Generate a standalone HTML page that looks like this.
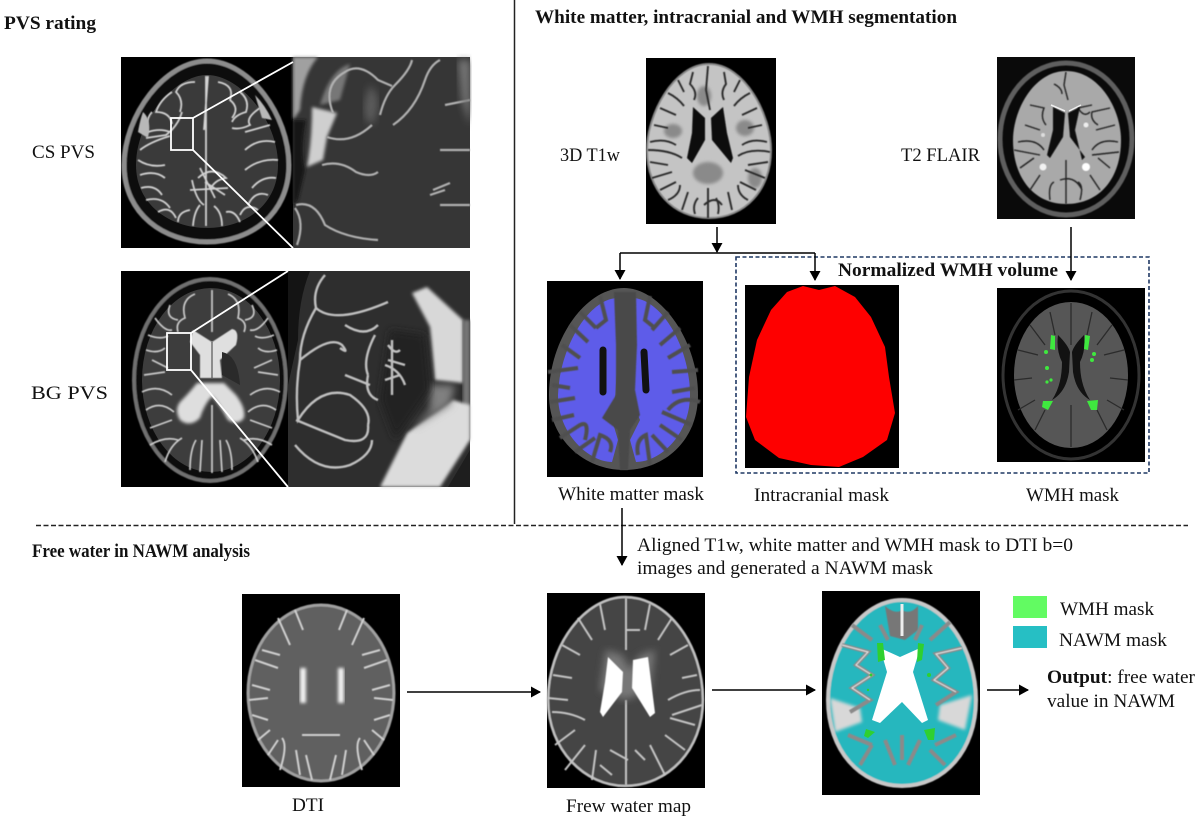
<!DOCTYPE html>
<html><head><meta charset="utf-8"><title>PVS, WMH and free water analysis</title>
<style>html,body{margin:0;padding:0;background:#fff}svg{display:block}text{font-family:"Liberation Serif",serif;font-size:19px;fill:#111}.b{font-weight:bold}</style>
</head><body>
<svg width="1200" height="820" viewBox="0 0 1200 820" xmlns="http://www.w3.org/2000/svg">
<defs>
<filter id="b1"><feGaussianBlur stdDeviation="0.6"/></filter>
<filter id="b2"><feGaussianBlur stdDeviation="1.5"/></filter>
<filter id="b3"><feGaussianBlur stdDeviation="4"/></filter>
<marker id="a" viewBox="0 0 10 10" refX="9" refY="5" markerWidth="10" markerHeight="11" preserveAspectRatio="none" markerUnits="userSpaceOnUse" orient="auto"><path d="M0 0L10 5L0 10z" fill="#000"/></marker>
</defs>
<rect width="1200" height="820" fill="#fff"/>

<!-- CS brain -->
<rect x="121" y="57" width="172" height="191" fill="#000"/>
<path d="M207 61C250 61 289 115 289 165C289 215 250 242 207 242C165 242 124 215 124 165C124 115 165 61 207 61Z" fill="#111" stroke="#8c8c8c" stroke-width="5" filter="url(#b1)"/>
<path d="M207 75C240 75 278 120 278 165C278 205 245 228 207 228C170 228 136 205 136 165C136 120 175 75 207 75Z" fill="#3a3a3a"/>
<g fill="none" stroke="#d2d2d2" stroke-width="1.8" filter="url(#b1)">
<path d="M206 76V226M208 76L204 130"/>
<path d="M195 82Q180 82 176 92Q184 100 180 112M172 92Q160 100 156 112Q170 112 172 124M152 112Q145 120 148 132Q160 128 170 132M146 138L166 135Q178 126 182 112M140 150Q150 142 170 136M138 160Q150 168 165 165M140 175Q155 170 165 178M141 188Q155 184 162 195M146 200Q162 196 170 208M158 212Q170 205 176 218M178 222Q178 212 190 210M193 226Q194 212 200 205"/>
<path d="M218 82Q235 85 230 100Q240 108 232 118M240 92Q250 100 246 112Q235 115 232 122M260 108Q245 118 250 125Q240 130 232 128M270 125L245 132M275 142Q258 138 245 150M278 160Q260 158 245 170M276 178Q262 176 252 188M268 195Q255 190 248 205M258 210Q246 202 240 215M240 222Q235 210 226 212M222 226Q222 212 214 206"/>
<path d="M198 178Q212 165 226 178Q214 180 210 190M190 190L228 188M200 168L215 198M225 195L205 182M192 180Q196 200 204 205"/>
</g>
<path d="M143 112Q152 120 148 138L138 132Q140 120 143 112ZM255 95Q265 105 272 120L262 118Z" fill="#b8b8b8" filter="url(#b1)"/>
<!-- CS zoom -->
<rect x="293" y="57" width="177" height="191" fill="#363636"/>
<path d="M293 57H318Q302 75 300 110L293 120Z" fill="#a0a0a0" filter="url(#b2)"/>
<path d="M293 120H306Q300 150 305 170L298 200L293 205Z" fill="#141414" filter="url(#b2)"/>
<path d="M312 107L337 113L327 137L323 160L307 167Q312 140 312 107Z" fill="#cfcfcf" filter="url(#b2)"/>
<path d="M320 105Q330 70 350 64L340 100Z" fill="#777" filter="url(#b2)"/>
<path d="M370 85Q385 100 372 125Q362 120 365 100Z" fill="#5b5b5b" filter="url(#b3)"/>
<g fill="none" stroke="#b0b0b0" stroke-width="2.2" filter="url(#b1)">
<path d="M333 113Q322 85 345 72Q360 62 378 80L392 86"/><path d="M327 137Q350 145 372 125"/><path d="M322 165Q340 160 356 172Q370 178 378 172"/>
<path d="M296 205Q315 200 325 225Q345 238 378 240"/><path d="M380 115Q385 95 395 85Q410 70 412 60"/><path d="M393 125Q415 110 425 80Q430 65 440 60"/><path d="M440 150H470M445 105L470 100"/><path d="M295 208Q305 222 297 245"/><path d="M430 195L445 190M433 190L450 183"/><path d="M440 205H470"/>
</g>
<path d="M458 60H470V125L462 100Z" fill="#777" filter="url(#b3)"/>
<path d="M293 62L193 118M193 150L293 248" stroke="#fff" stroke-width="1.8"/>
<rect x="171" y="118" width="22" height="32" fill="none" stroke="#fff" stroke-width="1.8"/>

<!-- BG brain -->
<rect x="121" y="271" width="167" height="216" fill="#000"/>
<ellipse cx="210" cy="380" rx="76" ry="101" fill="#0e0e0e" stroke="#707070" stroke-width="4" filter="url(#b1)"/>
<ellipse cx="211" cy="380" rx="69" ry="92" fill="#3d3d3d"/>
<g fill="none" stroke="#cbcbcb" stroke-width="1.7" filter="url(#b1)">
<path d="M212 290V332M212 405V473"/>
<path d="M195 294Q180 300 185 318Q175 322 178 332M170 305Q165 318 178 320M155 318Q165 332 172 330M148 335Q160 340 168 336M146 350Q158 354 165 348M152 360L168 368M144 375L165 372M142 392Q158 384 172 395M146 410Q160 400 174 412M150 428L172 420M150 445Q165 436 178 440M165 462Q170 445 182 438M190 470Q190 450 196 440M200 472L202 440"/>
<path d="M228 294Q242 300 238 318Q248 322 244 332M252 305Q258 318 245 320M268 318Q258 332 250 330M274 335Q262 340 255 336M277 350Q265 354 258 348M272 360L254 368M278 375L258 372M280 392Q265 384 250 395M276 410Q262 400 248 412M272 428L250 420M272 445Q258 436 244 440M258 462Q252 445 240 438M232 470Q232 450 226 440M222 472L220 440"/>
</g>
<path d="M193 330L212 342L232 329Q240 330 236 345L220 360L222 378H200L200 355L190 342Z" fill="#dfdfdf" filter="url(#b1)"/>
<path d="M212 342V378" stroke="#555" stroke-width="1.2"/>
<path d="M222 352Q238 355 240 385L222 375Z" fill="#2a2a2a"/>
<path d="M197 383H224L236 395Q246 408 244 418Q238 426 228 420Q220 405 212 396Q204 405 200 418Q190 428 180 420Q174 410 180 402Q190 392 197 383Z" fill="#dedede" filter="url(#b2)"/>
<!-- BG zoom -->
<rect x="288" y="271" width="182" height="216" fill="#2e2e2e"/>
<path d="M288 271H310Q298 300 298 340L288 385Z" fill="#141414"/>
<path d="M412 293L427 287L463 320L463 383L435 380L430 327Z" fill="#d8d8d8" filter="url(#b2)"/>
<path d="M463 320H470V440H463Z" fill="#777" filter="url(#b2)"/>
<path d="M380 487L407 433L453 400L470 405V440L440 487Z" fill="#dcdcdc" filter="url(#b2)"/>
<path d="M430 385L455 385L450 405L410 430L430 410Z" fill="#808080" filter="url(#b3)"/>
<path d="M448 487L470 450V487Z" fill="#1e1e1e"/>
<path d="M390 330L425 335L430 390L395 440L380 400Z" fill="#242424" filter="url(#b3)"/>
<g fill="none" stroke="#c0c0c0" stroke-width="2.4" filter="url(#b1)">
<path d="M325 275Q312 290 316 308Q335 325 388 302"/><path d="M316 308Q300 335 300 360Q330 335 342 345Q350 355 340 348"/><path d="M300 360Q295 390 298 420Q320 385 350 395Q372 410 368 425"/>
<path d="M345 325Q365 338 378 325M375 335Q362 360 368 375M345 375L370 385M368 375Q364 395 378 400"/>
<path d="M296 420Q320 430 345 440Q370 445 368 425M295 445Q320 475 350 465Q372 455 372 440"/><path d="M385 365Q400 370 405 385M388 345Q395 355 400 350M392 340V395"/><path d="M385 380L400 375M388 360L405 365"/>
</g>
<path d="M288 271L191 333M191 370L288 487" stroke="#fff" stroke-width="1.8"/>
<rect x="167" y="333" width="24" height="37" fill="none" stroke="#fff" stroke-width="1.8"/>

<!-- T1 -->
<rect x="646" y="58" width="130" height="166" fill="#000"/>
<path d="M709 64C745 64 771 115 771 150C771 190 745 218 709 218C673 218 647 190 647 150C647 115 673 64 709 64Z" fill="#c4c4c4" stroke="#888" stroke-width="2" filter="url(#b1)"/>
<g fill="#8a8a8a" filter="url(#b2)"><ellipse cx="673" cy="131" rx="9" ry="7"/><ellipse cx="745" cy="128" rx="9" ry="8"/><ellipse cx="708" cy="173" rx="15" ry="11"/><ellipse cx="704" cy="96" rx="7" ry="10"/><ellipse cx="755" cy="178" rx="7" ry="10"/></g>
<g fill="none" stroke="#2a2a2a" stroke-width="1.9" filter="url(#b1)">
<path d="M708 66L706 90L710 110M708 188V218"/>
<path d="M693 72L690 84Q698 92 694 100M678 80L684 92M668 93Q678 98 684 106M660 108L676 115M654 125L668 128M650 142Q665 138 676 145M648 150Q670 150 682 158M650 162L668 165M652 178L672 172M660 190L676 182M668 200Q680 195 680 185M682 210L688 192M695 214Q692 205 698 198M704 205Q715 195 722 205"/>
<path d="M724 72L726 84Q720 92 724 100M740 80L734 92M750 93Q740 98 734 106M757 108L742 115M762 125L748 128M767 142Q752 138 742 145M770 152Q750 148 738 156M768 162L748 165M765 178L745 170M756 190L740 182M748 200Q738 195 738 185M732 210L728 192M718 214Q720 205 716 198"/>
</g>
<path d="M693 107L705 118L705 140L692 163L687 158L692 133ZM723 107L711 118L712 140L731 163L733 158L727 133Z" fill="#0c0c0c" filter="url(#b1)"/>

<!-- FLAIR -->
<rect x="997" y="57" width="138" height="162" fill="#0a0a0a"/>
<ellipse cx="1066" cy="139" rx="66" ry="76" fill="none" stroke="#5e5e5e" stroke-width="5" filter="url(#b1)"/>
<path d="M1066 71C1100 71 1121 110 1121 140C1121 178 1100 204 1066 204C1034 204 1013 178 1013 140C1013 110 1034 71 1066 71Z" fill="#a9a9a9" filter="url(#b1)"/>
<g fill="none" stroke="#222" stroke-width="1.4" filter="url(#b1)">
<path d="M1066 72L1064 85L1068 100M1066 160V204"/>
<path d="M1054 84Q1062 88 1062 94M1030 105L1044 108Q1040 118 1046 125M1025 125L1040 130M1018 142Q1036 138 1044 150M1014 150L1040 155M1020 168L1034 158M1030 190L1040 175M1050 200Q1048 185 1054 182"/>
<path d="M1092 105L1078 108Q1084 118 1090 112M1110 108L1092 112Q1090 120 1098 125M1115 125L1096 130M1118 142Q1100 138 1092 150M1119 152L1092 155M1110 168L1098 158M1100 190L1090 175M1080 200Q1084 185 1078 182M1060 180Q1075 175 1082 190"/>
</g>
<path d="M1053 107L1065 113L1063 137L1050 158L1047 155L1053 130ZM1080 107L1068 113L1070 137L1085 157L1082 160L1075 130Z" fill="#0c0c0c" filter="url(#b1)"/>
<path d="M1051 105L1065 111M1081 105L1069 111" stroke="#eee" stroke-width="1.5"/>
<circle cx="1043" cy="167" r="3.5" fill="#f2f2f2" filter="url(#b1)"/><circle cx="1086" cy="167" r="4" fill="#fff" filter="url(#b1)"/><circle cx="1086" cy="125" r="2.5" fill="#eee" filter="url(#b1)"/><circle cx="1043" cy="135" r="2" fill="#ddd" filter="url(#b1)"/>

<!-- WM mask -->
<rect x="547" y="281" width="156" height="196" fill="#000"/>
<path d="M624 288C660 288 698 340 698 395C698 440 665 470 624 470C585 470 549 440 549 395C549 340 585 288 624 288Z" fill="#555"/>
<path d="M618 298C590 298 560 345 558 395C558 435 590 462 612 462L618 440L612 420L615 400L618 350ZM632 298C660 298 690 345 690 395C690 435 660 462 636 462L630 440L640 420L632 400Z" fill="#5e5ce9"/>
<g fill="none" stroke="#505050" stroke-width="4" filter="url(#b1)">
<path d="M600 296L606 320L596 328M580 312L596 328M570 325L588 342M562 345L580 358M548 372L578 368M552 385L570 388M550 402L575 398M552 420L574 415M560 438L580 425Q590 420 585 440M575 452L595 438M592 462L600 435Q615 440 610 452"/>
<path d="M650 296L645 320L655 328M668 312L652 330M680 328L660 345M690 345L668 358M698 370L672 372M695 388L672 392M700 402Q680 395 668 410M692 425L662 412M682 440L660 425M668 452L652 435M650 465L646 435Q635 440 638 455"/>
</g>
<path d="M603 350V392M644 352L646 390" stroke="#111" stroke-width="7" stroke-linecap="round" fill="none"/>
<path d="M614 292H636L637 345L635 390L640 415L630 430L628 470H620L618 430L602 418L616 395L616 345Z" fill="#484848" filter="url(#b1)"/>
<path d="M625 292V470" stroke="#222" stroke-width="3" filter="url(#b1)"/>

<!-- Intracranial -->
<rect x="745" y="285" width="154" height="183" fill="#000"/>
<path d="M803 286L819 290L835 286L855 297L871 317L885 347L889 377L895 413L887 440L863 457L839 467L811 465L779 458L755 440L746 417L749 377L757 340L771 310L787 292Z" fill="#fe0000"/>

<!-- WMH mask -->
<rect x="997" y="288" width="148" height="174" fill="#000"/>
<ellipse cx="1071" cy="375" rx="68" ry="84" fill="none" stroke="#333" stroke-width="3"/>
<ellipse cx="1071" cy="375" rx="57" ry="73" fill="#565656"/>
<g fill="none" stroke="#2b2b2b" stroke-width="1.3">
<path d="M1071 303V345M1071 405V447M1050 312L1055 335M1030 325L1045 345M1018 350L1038 355M1014 380L1032 378M1018 410L1035 400M1035 430L1045 410M1092 312L1087 335M1112 325L1097 345M1124 350L1104 355M1128 380L1110 378M1124 410L1107 400M1107 430L1097 410"/>
</g>
<path d="M1058 335Q1068 345 1070 352L1069 372Q1066 392 1052 400Q1062 385 1062 362Q1056 350 1058 335ZM1084 335Q1074 345 1072 352L1073 372Q1076 392 1090 400Q1080 385 1080 362Q1086 350 1084 335Z" fill="#121212"/>
<g fill="#3fe83f">
<path d="M1051 335L1055 336L1055 350L1050 349Z"/><path d="M1085 335L1090 336L1088 350L1084 349Z"/>
<circle cx="1046" cy="352" r="2"/><circle cx="1047" cy="368" r="2"/><circle cx="1047" cy="382" r="1.6"/><circle cx="1051" cy="380" r="1.6"/><circle cx="1094" cy="354" r="2"/><circle cx="1092" cy="360" r="2"/>
<path d="M1043 401L1053 401L1048 410L1042 407Z"/><path d="M1087 401L1098 400L1097 410L1091 410Z"/>
</g>

<!-- Dashed box, lines, arrows -->
<rect x="736" y="257" width="413" height="216" fill="none" stroke="#1f3864" stroke-width="1.6" stroke-dasharray="4 2.5"/>
<path d="M514.5 0V524" stroke="#222" stroke-width="1.5"/>
<path d="M36 525.5H1188" stroke="#222" stroke-width="1.5" stroke-dasharray="5 2.5"/>
<g fill="none" stroke="#000" stroke-width="1.5">
<path d="M717 227V252" marker-end="url(#a)"/>
<path d="M620 253H815"/>
<path d="M620 253V279" marker-end="url(#a)"/>
<path d="M815 253V280" marker-end="url(#a)"/>
<path d="M1071 227V280" marker-end="url(#a)"/>
<path d="M622 508V565" marker-end="url(#a)"/>
<path d="M407 692H540" marker-end="url(#a)"/>
<path d="M712 690H815" marker-end="url(#a)"/>
<path d="M987 690H1028" marker-end="url(#a)"/>
</g>

<!-- DTI -->
<rect x="242" y="594" width="158" height="193" fill="#000"/>
<ellipse cx="321" cy="693" rx="73" ry="88" fill="#606060" stroke="#a0a0a0" stroke-width="3" filter="url(#b1)"/>
<g fill="none" stroke="#d0d0d0" stroke-width="2" filter="url(#b1)">
<path d="M295 610L303 630M278 618L290 645M262 650L280 655M255 660L278 668M252 685L270 690M249 700L268 698M252 715L268 720M258 740L270 730M268 755L278 740M280 770Q288 745 282 738M300 775L296 750M312 780L306 755"/>
<path d="M347 610L339 630M364 618L352 645M380 650L362 655M387 660L364 668M390 685L372 690M393 700L374 698M390 715L374 720M384 740L372 730M374 755L364 740M362 770Q354 745 360 738M342 775L346 750M330 780L336 755"/>
<path d="M302 735H340"/>
</g>
<path d="M321 604V782" stroke="#eee" stroke-width="3.5" filter="url(#b1)"/>
<path d="M303 668V703M341 668V703" stroke="#f2f2f2" stroke-width="6" filter="url(#b2)"/>
<path d="M290 670H315M327 670H352" stroke="#ccc" stroke-width="2" filter="url(#b1)"/>

<!-- Free water -->
<rect x="547" y="593" width="158" height="195" fill="#000"/>
<path d="M625 597C668 597 703 645 703 700C703 750 668 786 625 786C585 786 548 750 548 700C548 645 585 597 625 597Z" fill="#454545" stroke="#c0c0c0" stroke-width="2.5" filter="url(#b1)"/>
<g fill="none" stroke="#c4c4c4" stroke-width="2" filter="url(#b1)">
<path d="M626 598V650M626 700V785M625 630H640"/>
<path d="M600 604L605 630M578 618L592 640M562 645L580 655M553 675L572 678M548 698L568 700M552 712Q570 712 585 720M555 745L575 730M565 770L585 745M592 780L596 750M610 750L628 760M600 765L612 775"/>
<path d="M650 604L645 630M672 618L658 640M688 645L670 655M697 675L682 678M702 705L672 715M700 690Q685 690 668 700M695 725L670 718M685 750L665 735M665 775L650 745M645 760L635 750"/>
</g>
<path d="M606 650L622 655L630 670L640 655L655 650L650 690L625 700L600 690Z" fill="#777" filter="url(#b3)"/>
<path d="M608 657L623 672L622 692L603 717L600 712L605 682Z" fill="#fff" filter="url(#b1)"/>
<path d="M633 660L648 657L655 713L650 717L632 688Z" fill="#fff" filter="url(#b1)"/>

<!-- NAWM -->
<rect x="822" y="591" width="158" height="204" fill="#000"/>
<path d="M902 600C945 600 976 650 976 700C976 750 945 786 902 786C860 786 828 750 828 700C828 650 860 600 902 600Z" fill="#25b7be" stroke="#c8c8c8" stroke-width="4" filter="url(#b1)"/>
<path d="M830 698L860 708L862 722L835 732ZM972 695L940 705L938 720L965 730Z" fill="#d8d8d8" filter="url(#b2)"/>
<path d="M885 606Q895 615 902 610Q910 615 918 606L918 630L905 640L890 636Z" fill="#777" filter="url(#b1)"/>
<path d="M902 604V636" stroke="#eee" stroke-width="3"/>
<g fill="none" stroke="#8a8a8a" stroke-width="4" filter="url(#b1)">
<path d="M842 645L868 652L856 665L872 675L852 688L870 700L850 712M962 648L936 654L948 668L934 680L956 692L936 705"/>
<path d="M852 625L872 640M950 622L930 640M880 625L888 640M922 625L915 640M848 735L872 745M956 735L935 745M860 765L872 745M945 765L930 750M885 740L895 765M920 740L908 765M902 735V760"/>
</g>
<g fill="none" stroke="#e2e2e2" stroke-width="1.2" filter="url(#b1)"><path d="M842 645L868 652L856 665L872 675L852 688L870 700M962 648L936 654L948 668L934 680L956 692"/></g>
<path d="M880 648L900 657L920 648L913 672L928 720L922 723L902 702L880 723L872 720L887 672Z" fill="#fff"/>
<g fill="#2fd02f"><path d="M877 643L883 643L885 660L878 662Z"/><path d="M918 643L924 644L922 660L917 662Z"/><path d="M866 729L875 732L868 738L864 736Z"/><path d="M924 730L935 728L934 740L928 740Z"/><circle cx="929" cy="675" r="2"/><circle cx="871" cy="675" r="1.5"/><circle cx="868" cy="690" r="1.2"/></g>

<!-- Legend -->
<rect x="1013" y="596" width="34" height="22" fill="#62fb62"/>
<rect x="1013" y="626" width="34" height="22" fill="#26bfc4"/>

<!-- Text -->
<text class="b" x="4" y="29" textLength="92" lengthAdjust="spacingAndGlyphs">PVS rating</text>
<text class="b" x="535" y="23" textLength="422" lengthAdjust="spacingAndGlyphs">White matter, intracranial and WMH segmentation</text>
<text x="32" y="158" textLength="63" lengthAdjust="spacingAndGlyphs">CS PVS</text>
<text x="31" y="399" textLength="77" lengthAdjust="spacingAndGlyphs">BG PVS</text>
<text x="560" y="161" textLength="60" lengthAdjust="spacingAndGlyphs">3D T1w</text>
<text x="901" y="161" textLength="79" lengthAdjust="spacingAndGlyphs">T2 FLAIR</text>
<text class="b" x="838" y="276" textLength="220" lengthAdjust="spacingAndGlyphs">Normalized WMH volume</text>
<text x="558" y="500" textLength="146" lengthAdjust="spacingAndGlyphs">White matter mask</text>
<text x="754" y="501" textLength="135" lengthAdjust="spacingAndGlyphs">Intracranial mask</text>
<text x="1026" y="501" textLength="93" lengthAdjust="spacingAndGlyphs">WMH mask</text>
<text class="b" x="32" y="557" textLength="218" lengthAdjust="spacingAndGlyphs">Free water in NAWM analysis</text>
<text x="637" y="551" textLength="436" lengthAdjust="spacingAndGlyphs">Aligned T1w, white matter and WMH mask to DTI b=0</text>
<text x="637" y="574" textLength="296" lengthAdjust="spacingAndGlyphs">images and generated a NAWM mask</text>
<text x="292" y="811" textLength="32" lengthAdjust="spacingAndGlyphs">DTI</text>
<text x="566" y="812" textLength="125" lengthAdjust="spacingAndGlyphs">Frew water map</text>
<text x="1060" y="615" textLength="94" lengthAdjust="spacingAndGlyphs">WMH mask</text>
<text x="1059" y="646" textLength="108" lengthAdjust="spacingAndGlyphs">NAWM mask</text>
<text x="1047" y="683" textLength="148" lengthAdjust="spacingAndGlyphs"><tspan class="b">Output</tspan>: free water</text>
<text x="1047" y="707" textLength="128" lengthAdjust="spacingAndGlyphs">value in NAWM</text>
</svg>
</body></html>
